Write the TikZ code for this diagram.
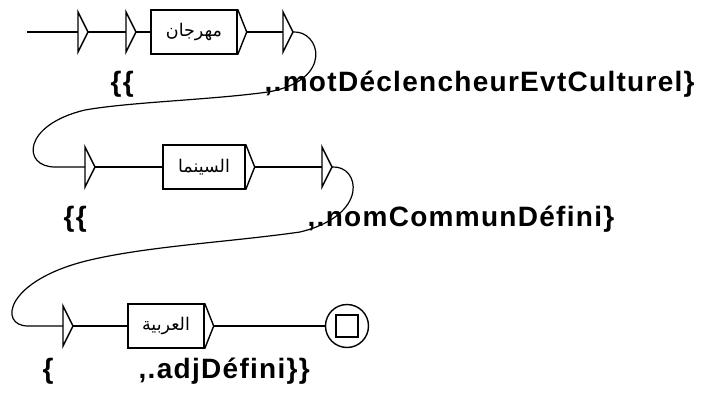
\documentclass[tikz,border=0pt]{standalone}
\usepackage{fontspec}
\setmainfont{Liberation Sans}
\newfontfamily\labfont[LetterSpace=4.6]{Liberation Sans}
\newfontfamily\arabicfont[Script=Arabic]{DejaVu Sans}
\TeXXeTstate=1
\newcommand{\labtxt}{\labfont\bfseries\fontsize{28}{30}\selectfont}
\newcommand{\boxtxt}{\arabicfont\fontsize{17.5}{19}\selectfont}
% entry triangle of a state
\newcommand{\gtri}[1]{\draw (#1) ++(0,-20) -- ++(10,20) -- ++(-10,20) -- cycle;}

\begin{document}
\begin{tikzpicture}[x=1pt,y=-1pt,line width=1.4pt,
  trans/.style={draw, rectangle, minimum height=44pt, inner sep=0pt, font=\boxtxt},
  lab/.style={anchor=base west, inner sep=0pt, font=\labtxt}]
\useasboundingbox (0,0) rectangle (713,399);

%Row 1
\coordinate (s0) at (27,32);
\coordinate (t1) at (78,32);
\coordinate (t2) at (126,32);
\node[trans, minimum width=86pt] (b1) at (194,32) {\beginR مهرجان\endR};
\coordinate (t3) at (283,32);
\gtri{t1} \gtri{t2} \gtri{t3}
\draw (b1.north east) -- ([xshift=9pt]b1.east) -- (b1.south east);
\draw (s0) -- (t1);
\draw ([xshift=10pt]t1) -- (t2);
\draw ([xshift=10pt]t2) -- (b1.west);
\draw ([xshift=9pt]b1.east) -- (t3);

%Row 2
\coordinate (t4) at (85,167);
\node[trans, minimum width=82pt] (b2) at (204,167) {\beginR السينما\endR};
\coordinate (t5) at (322,167);
\gtri{t4} \gtri{t5}
\draw (b2.north east) -- ([xshift=9pt]b2.east) -- (b2.south east);
\draw ([xshift=10pt]t4) -- (b2.west);
\draw ([xshift=9pt]b2.east) -- (t5);

%Row 3
\coordinate (t6) at (63,326);
\node[trans, minimum width=76pt] (b3) at (166,326) {\beginR العربية\endR};
\node[draw, circle, minimum size=43pt, inner sep=0pt] (fin) at (347,326) {};
\node[draw, rectangle, minimum size=22pt, inner sep=0pt] (finsq) at (fin.center) {};
\gtri{t6}
\draw (b3.north east) -- ([xshift=9pt]b3.east) -- (b3.south east);
\draw ([xshift=10pt]t6) -- (b3.west);
\draw ([xshift=9pt]b3.east) -- (fin.west);

%Curved Lines
\draw[line width=1.2pt] ([xshift=10pt]t3) .. controls (320,30) and (335,80) .. (268,92)
  .. controls (210,100) and (130,102) .. (85,110)
  .. controls (22,125) and (22,167) .. (55,167) -- (t4);
\draw[line width=1.2pt] ([xshift=10pt]t5) .. controls (360,165) and (370,215) .. (300,232)
  .. controls (230,242) and (150,246) .. (90,260)
  .. controls (5,280) and (-2,326) .. (28,326) -- (t6);

% Text Node
\node[lab] (l1a) at (110,91) {\{\{};
\node[lab] (l1b) at (264,91) {,.motDéclencheurEvtCulturel\}};
\node[lab] (l2a) at (63,226) {\{\{};
\node[lab] (l2b) at (307,226) {,.nomCommunDéfini\}};
\node[lab] (l3a) at (42,378) {\{};
\node[lab] (l3b) at (138,378) {,.adjDéfini\}\}};

\end{tikzpicture}
\end{document}
